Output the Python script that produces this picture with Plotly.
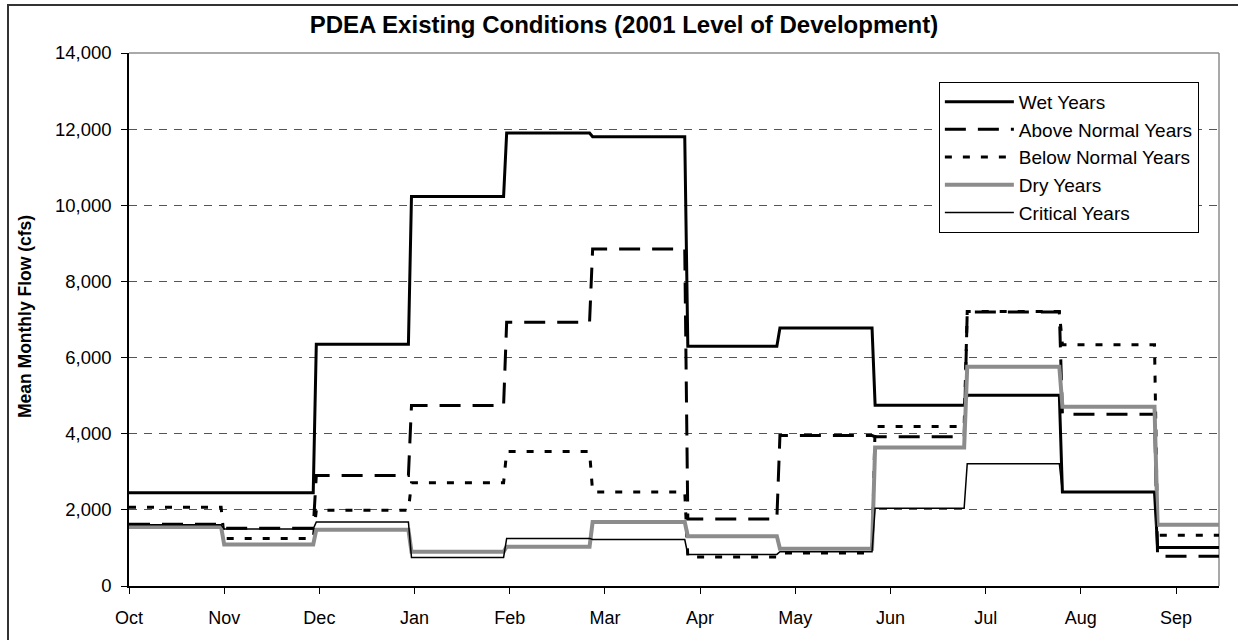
import plotly.graph_objects as go

# Water-year months and their lengths in days (Oct 2000 - Sep 2001)
months = ["Oct", "Nov", "Dec", "Jan", "Feb", "Mar", "Apr", "May", "Jun", "Jul", "Aug", "Sep"]
month_days = [31, 30, 31, 31, 28, 31, 30, 31, 30, 31, 31, 30]

# Mean monthly flow (cfs) by water-year type
wet_years = [2450, 2450, 6350, 10230, 11900, 11800, 6300, 6780, 4750, 5010, 2470, 1010]
above_normal_years = [1620, 1520, 2900, 4740, 6930, 8850, 1760, 3950, 3920, 7200, 4510, 780]
below_normal_years = [2070, 1250, 1990, 2710, 3530, 2470, 760, 870, 4190, 7210, 6340, 1330]
dry_years = [1550, 1090, 1480, 900, 1030, 1680, 1310, 980, 3640, 5760, 4710, 1610]
critical_years = [1610, 1500, 1680, 750, 1250, 1220, 830, 900, 2040, 3210, 2470, 1010]

# Daily index of each month start; month tick labels are spaced every 31 days
starts = [sum(month_days[:i]) for i in range(len(month_days))]
ends = [s + d for s, d in zip(starts, month_days)]
tick_pos = [31 * i for i in range(len(months))]
x_max = 355


def monthly_steps(values):
    """Hold each month's mean flat over the month, stepping to the next on day one."""
    xs, ys = [], []
    for s, e, v in zip(starts, ends, values):
        xs += [s, e - 1]
        ys += [v, v]
    return xs, ys


series = [
    ("Wet Years", wet_years, dict(color="black", width=3, dash="solid")),
    ("Above Normal Years", above_normal_years, dict(color="black", width=3, dash="21px,12px")),
    ("Below Normal Years", below_normal_years, dict(color="black", width=3, dash="7px,11px")),
    ("Dry Years", dry_years, dict(color="#8c8c8c", width=4, dash="solid")),
    ("Critical Years", critical_years, dict(color="black", width=1.5, dash="solid")),
]

fig = go.Figure()
for name, vals, line in series:
    xs, ys = monthly_steps(vals)
    fig.add_trace(go.Scatter(x=xs, y=ys, mode="lines", name=name, line=line))

font_family = "Arial, Liberation Sans, sans-serif"

fig.update_layout(
    width=1238,
    height=640,
    margin=dict(l=129, r=19, t=53, b=44),
    paper_bgcolor="white",
    plot_bgcolor="white",
    font=dict(family=font_family, size=18, color="black"),
    title=dict(
        text="<b>PDEA Existing Conditions (2001 Level of Development)</b>",
        x=0.504, xref="container", xanchor="center",
        y=1 - 25 / 640, yref="container", yanchor="middle",
        font=dict(size=24, family=font_family, color="black"),
    ),
    showlegend=True,
    legend=dict(
        x=0.743, y=0.946, xanchor="left", yanchor="top",
        bgcolor="white", bordercolor="black", borderwidth=1,
        font=dict(size=19, family=font_family),
        itemwidth=69,
    ),
    xaxis=dict(
        range=[0, x_max],
        tickmode="array", tickvals=tick_pos, ticktext=months,
        ticks="outside", ticklen=6, tickcolor="black", tickwidth=1,
        showline=True, linecolor="black", linewidth=1.5,
        showgrid=False, zeroline=False,
        ticklabelstandoff=9,
    ),
    yaxis=dict(
        range=[0, 14000],
        tickmode="array", tickvals=list(range(0, 14001, 2000)),
        tickformat=",d",
        ticks="outside", ticklen=6, tickcolor="black", tickwidth=1,
        showline=True, linecolor="black", linewidth=1.5,
        showgrid=True, gridcolor="#555555", gridwidth=1, griddash="8px,7px",
        zeroline=False,
        ticklabelstandoff=6,
        tickfont=dict(size=18.5),
    ),
)

# Plot-area border on top and right
fig.add_shape(type="line", xref="paper", yref="paper", x0=0, x1=1, y0=1, y1=1,
              line=dict(color="#8c8c8c", width=1.5), layer="below")
fig.add_shape(type="line", xref="paper", yref="paper", x0=1, x1=1, y0=0, y1=1,
              line=dict(color="#8c8c8c", width=1.5), layer="below")

# Chart frame (left and top edges fall inside the page)
fig.add_shape(type="rect", xref="paper", yref="paper",
              x0=(8 - 129) / 1090, x1=(1290 - 129) / 1090,
              y0=(596 - 700) / 543, y1=(596 - 4) / 543,
              line=dict(color="#333333", width=2), fillcolor="rgba(0,0,0,0)")

# Y-axis title
fig.add_annotation(
    text="<b>Mean Monthly Flow (cfs)</b>",
    xref="paper", yref="paper", x=(25 - 129) / 1090, y=(596 - 322) / 543,
    xanchor="center", yanchor="middle", textangle=-90, showarrow=False,
    font=dict(size=17.5, family=font_family, color="black"),
)

fig.write_html("out.html")
